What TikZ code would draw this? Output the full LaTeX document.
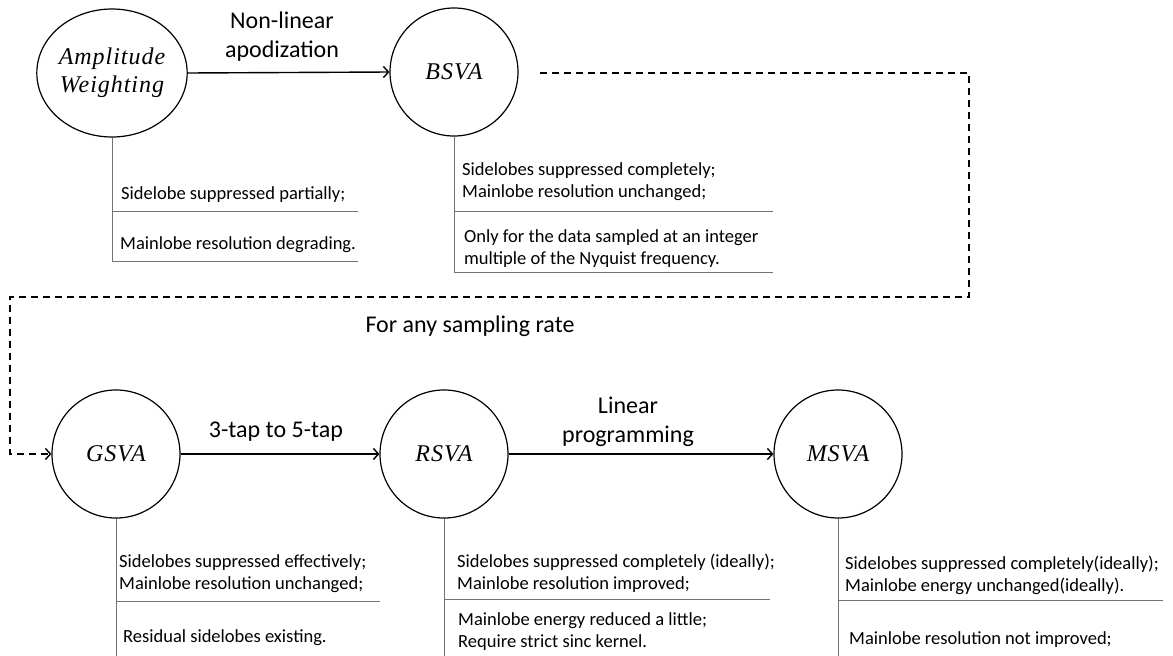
\documentclass[tikz,border=0pt]{standalone}
\usepackage{fontspec}
\setmainfont{Carlito}
\newfontfamily\mathlike[LetterSpace=4]{Liberation Serif}
\usetikzlibrary{arrows.meta,shapes.geometric}

\begin{document}
\begin{tikzpicture}[x=1pt, y=-1pt,
  method/.style={circle, draw, line width=1.2pt, minimum size=128pt,
    inner sep=0pt, font=\mathlike\itshape\fontsize{24}{28}\selectfont,
    align=center},
  flow/.style={-{Straight Barb[length=5pt,width=11pt]}, line width=1.4pt},
  dflow/.style={flow, dash pattern=on 7pt off 5pt},
  trans/.style={font=\fontsize{24}{29}\selectfont, align=center},
  note/.style={anchor=west, inner sep=0pt,
    font=\fontsize{18.5}{22}\selectfont, align=left},
  rule/.style={draw=black!55, line width=0.8pt}
]
  \useasboundingbox (0,0) rectangle (1173,656);

  \node[method, ellipse, minimum width=147pt, minimum height=128pt] (amp)
    at (112,73) {Amplitude\\Weighting};
  \node[method] (bsva) at (454,72) {BSVA};
  \node[method] (gsva) at (116,454) {GSVA};
  \node[method] (rsva) at (444,454) {RSVA};
  \node[method] (msva) at (838,454) {MSVA};

  \draw[flow] (amp.east) -- (bsva.west);
  \draw[flow] (gsva) -- (rsva);
  \draw[flow] (rsva) -- (msva);

  \node[trans] (nonlin) at (282,37) {Non-linear\\apodization};
  \node[trans] (taps) at (276,432) {3-tap to 5-tap};
  \node[trans] (linprog) at (628,422) {Linear\\programming};
  \node[trans] (anyrate) at (470,326) {For any sampling rate};

  \coordinate (dstart) at (540,73);
  \coordinate (dne) at (969,73);
  \coordinate (dsw) at (10,297);
  \draw[dflow] (dstart) -- (dne) -- (dne |- dsw) -- (dsw) |- (gsva.west);

  \draw[rule] (amp.south) -- ++(0,124) -- ++(246,0);
  \draw[rule] (112,211) -- (358,211);
  \node[note] (amp1) at (121,195) {Sidelobe suppressed partially;};
  \node[note] (amp2) at (120,245) {Mainlobe resolution degrading.};

  \draw[rule] (bsva.south) -- ++(0,136) -- ++(319,0);
  \draw[rule] (454,211) -- (773,211);
  \node[note] (bsva1) at (462,181.5)
    {Sidelobes suppressed completely;\\Mainlobe resolution unchanged;};
  \node[note] (bsva2) at (464,248.5)
    {Only for the data sampled at an integer\\multiple of the Nyquist frequency.};

  \draw[rule] (gsva.south) -- ++(0,138);
  \draw[rule] (116,601) -- (380,601);
  \node[note] (gsva1) at (119,574)
    {Sidelobes suppressed effectively;\\Mainlobe resolution unchanged;};
  \node[note] (gsva2) at (123,638) {Residual sidelobes existing.};

  \draw[rule] (rsva.south) -- ++(0,138);
  \draw[rule] (444,599) -- (770,599);
  \node[note] (rsva1) at (457,573)
    {Sidelobes suppressed completely (ideally);\\Mainlobe resolution improved;};
  \node[note] (rsva2) at (458,632)
    {Mainlobe energy reduced a little;\\Require strict sinc kernel.};

  \draw[rule] (msva.south) -- ++(0,138);
  \draw[rule] (838,600) -- (1163,600);
  \node[note] (msva1) at (845,575)
    {Sidelobes suppressed completely(ideally);\\Mainlobe energy unchanged(ideally).};
  \node[note] (msva2) at (849,640) {Mainlobe resolution not improved;};
\end{tikzpicture}
\end{document}
